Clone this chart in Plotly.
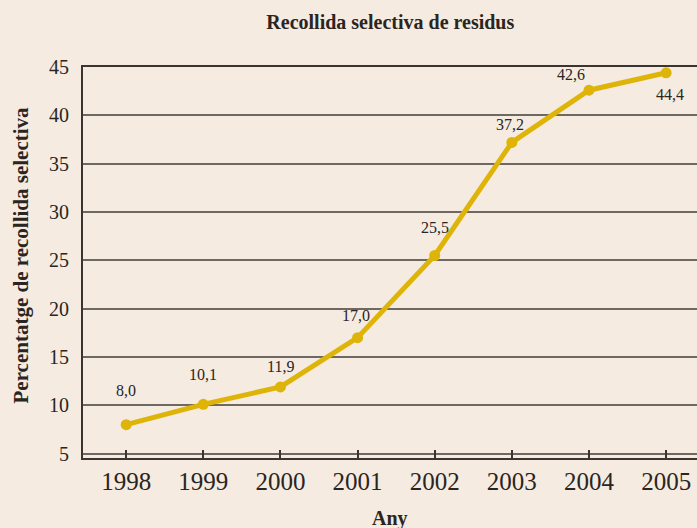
import plotly.graph_objects as go

# ---------------------------------------------------------
# Données
# ---------------------------------------------------------
anys = [1998, 1999, 2000, 2001, 2002, 2003, 2004, 2005]
percentatge = [8.0, 10.1, 11.9, 17.0, 25.5, 37.2, 42.6, 44.4]
etiquetes = ["8,0", "10,1", "11,9", "17,0", "25,5", "37,2", "42,6", "44,4"]

y_ticks = [5, 10, 15, 20, 25, 30, 35, 40, 45]

fons = "#f5ebe0"
groc = "#deb408"
text_col = "#2a2522"
serif = "Liberation Serif, DejaVu Serif, serif"

fig = go.Figure()
fig.add_trace(go.Scatter(
    x=anys,
    y=percentatge,
    mode="lines+markers",
    line=dict(color=groc, width=5),
    marker=dict(color=groc, size=11),
    hoverinfo="skip",
    showlegend=False,
))

# etiquetes de valor (la darrera, sota el punt)
decalatge = [(0, 34), (0, 30), (0, 20), (-2, 22), (0, 28), (-2, 18), (-18, 16), (4, -22)]
for x, y, t, (dx, dy) in zip(anys, percentatge, etiquetes, decalatge):
    fig.add_annotation(
        x=x, y=y, text=t, showarrow=False,
        xshift=dx, yshift=dy,
        font=dict(family=serif, size=16, color=text_col),
    )

# titres des axes
fig.add_annotation(
    xref="paper", yref="paper", x=0, y=0.5, xshift=-63, yshift=7,
    xanchor="center", yanchor="middle",
    text="<b>Percentatge de recollida selectiva</b>", textangle=-90,
    showarrow=False, font=dict(family=serif, size=21, color=text_col),
)
fig.add_annotation(
    xref="paper", yref="paper", x=0.5, y=0, yshift=-60,
    xanchor="center", yanchor="middle",
    text="<b>Any</b>", showarrow=False,
    font=dict(family=serif, size=20, color=text_col),
)

fig.update_layout(
    width=697,
    height=528,
    margin=dict(l=83, r=0, t=67, b=70),
    paper_bgcolor=fons,
    plot_bgcolor=fons,
    title=dict(
        text="<b>Recollida selectiva de residus</b>",
        x=0.56, xref="container", xanchor="center",
        y=1 - 22 / 528, yref="container", yanchor="middle",
        font=dict(family=serif, size=20, color=text_col),
    ),
    xaxis=dict(
        range=[1997.44, 2005.4],
        tickvals=anys,
        automargin=False,
        ticks="inside", ticklen=8, tickwidth=1.5, tickcolor="#3a3533",
        showgrid=False, zeroline=False,
        showline=True, linecolor="#3a3533", linewidth=2, mirror=True,
        tickfont=dict(family=serif, size=25, color=text_col),
    ),
    yaxis=dict(
        range=[4.55, 45],
        tickvals=y_ticks,
        automargin=False,
        ticks="", ticklabelstandoff=8,
        showgrid=True, gridcolor="#6e6863", gridwidth=1.5,
        zeroline=False,
        showline=True, linecolor="#3a3533", linewidth=2,
        tickfont=dict(family=serif, size=20, color=text_col),
    ),
)

# la page n'a pas de marge autour du graphique
fig.write_html(
    "out.html",
    config={"displayModeBar": False},
    post_script="document.body.style.margin='0';",
)
